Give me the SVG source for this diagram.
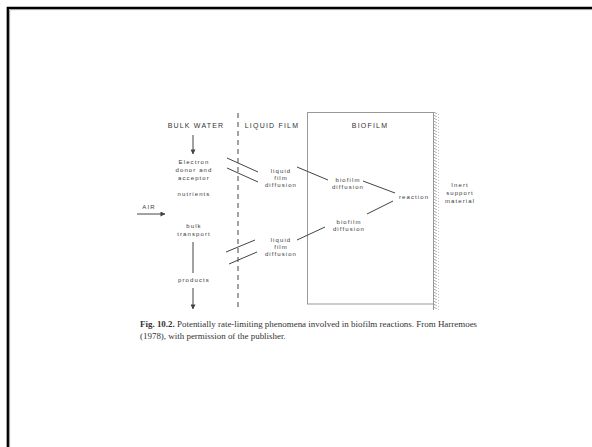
<svg xmlns="http://www.w3.org/2000/svg" width="592" height="447" viewBox="0 0 592 447">
  <defs>
    <marker id="arrow" viewBox="0 0 6 6" refX="5.5" refY="3" markerWidth="5" markerHeight="5" orient="auto" markerUnits="userSpaceOnUse">
      <path d="M0,0 L6,3 L0,6 Z" fill="#444"/>
    </marker>
    <pattern id="hatch" width="6" height="3" patternUnits="userSpaceOnUse">
      <path d="M0,0 L5,3" stroke="#999" stroke-width="0.8"/>
    </pattern>
  </defs>
  <style>
    .head { font-family: "Liberation Sans", Arial, sans-serif; font-size: 7px; letter-spacing: 1.2px; fill: #333; text-anchor: middle; }
    .lbl { font-family: "Liberation Sans", Arial, sans-serif; font-size: 6px; letter-spacing: 1.1px; fill: #3a3a3a; text-anchor: middle; }
    .ln { stroke: #444; stroke-width: 1; fill: none; }
    .cap { font-family: "Liberation Serif", "Times New Roman", serif; font-size: 8.95px; fill: #333; }
  </style>

  <rect width="592" height="447" fill="#fff"/>

  <!-- slide frame -->
  <path d="M7.8,447 V7.8 H592" fill="none" stroke="#000" stroke-width="2.3"/>
  <path d="M9.6,447 V9.6 H592" fill="none" stroke="#999" stroke-width="1"/>

  <!-- zone headings -->
  <g id="bulk-water"><text class="head" x="196" y="128">BULK WATER</text></g>
  <g id="liquid-film"><text class="head" x="272" y="128">LIQUID FILM</text></g>

  <!-- biofilm layer on its support -->
  <g id="biofilm">
    <rect x="307.5" y="112.5" width="126" height="191.5" fill="none" stroke="#999" stroke-width="1"/>
    <text class="head" x="370" y="128">BIOFILM</text>
  </g>
  <g id="support-wall">
    <rect x="434" y="112" width="5" height="198" fill="url(#hatch)"/>
    <line x1="433.5" y1="112" x2="433.5" y2="310" stroke="#999" stroke-width="1"/>
  </g>

  <!-- bulk water column -->
  <g id="donor">
    <text class="lbl" x="194" y="164">Electron</text>
    <text class="lbl" x="194" y="172">donor and</text>
    <text class="lbl" x="194" y="180">acceptor</text>
  </g>
  <g id="nutrients"><text class="lbl" x="194" y="196">nutrients</text></g>
  <g id="air"><text class="lbl" x="149" y="209">AIR</text></g>
  <g id="bulk-transport">
    <text class="lbl" x="194" y="228">bulk</text>
    <text class="lbl" x="194" y="236">transport</text>
  </g>
  <g id="products"><text class="lbl" x="194" y="282">products</text></g>

  <!-- liquid film -->
  <g id="lf-diffusion-upper">
    <text class="lbl" x="281" y="173">liquid</text>
    <text class="lbl" x="281" y="180">film</text>
    <text class="lbl" x="281" y="187">diffusion</text>
  </g>
  <g id="lf-diffusion-lower">
    <text class="lbl" x="281" y="242">liquid</text>
    <text class="lbl" x="281" y="249">film</text>
    <text class="lbl" x="281" y="256">diffusion</text>
  </g>

  <!-- biofilm interior -->
  <g id="bf-diffusion-upper">
    <text class="lbl" x="348" y="182">biofilm</text>
    <text class="lbl" x="348" y="189">diffusion</text>
  </g>
  <g id="bf-diffusion-lower">
    <text class="lbl" x="349" y="224">biofilm</text>
    <text class="lbl" x="349" y="231">diffusion</text>
  </g>
  <g id="reaction"><text class="lbl" x="414" y="199">reaction</text></g>
  <g id="inert-support">
    <text class="lbl" x="460" y="187">Inert</text>
    <text class="lbl" x="460" y="195">support</text>
    <text class="lbl" x="460" y="203">material</text>
  </g>

  <!-- connectors -->
  <g id="connectors">
    <line class="ln" x1="238" y1="113" x2="238" y2="310" stroke-dasharray="5 4"/>
    <line class="ln" x1="193" y1="135" x2="193" y2="154" marker-end="url(#arrow)"/>
    <line class="ln" x1="137" y1="214" x2="165" y2="214" marker-end="url(#arrow)"/>
    <line class="ln" x1="193" y1="242" x2="193" y2="273"/>
    <line class="ln" x1="193" y1="288" x2="193" y2="309" marker-end="url(#arrow)"/>
    <line class="ln" x1="227" y1="158" x2="258" y2="172"/>
    <line class="ln" x1="227" y1="168" x2="258" y2="182"/>
    <line class="ln" x1="226" y1="252" x2="255" y2="240"/>
    <line class="ln" x1="229" y1="264" x2="257" y2="252"/>
    <line class="ln" x1="297" y1="167" x2="328" y2="180"/>
    <line class="ln" x1="297" y1="240" x2="325" y2="227"/>
    <line class="ln" x1="363" y1="181" x2="395" y2="193"/>
    <line class="ln" x1="367" y1="214" x2="393" y2="201"/>
  </g>

  <!-- caption -->
  <g id="caption">
    <text class="cap" x="140" y="327"><tspan font-weight="bold">Fig. 10.2.</tspan>  Potentially rate-limiting phenomena involved in biofilm reactions. From Harremoes</text>
    <text class="cap" x="140" y="339">(1978), with permission of the publisher.</text>
  </g>
</svg>
